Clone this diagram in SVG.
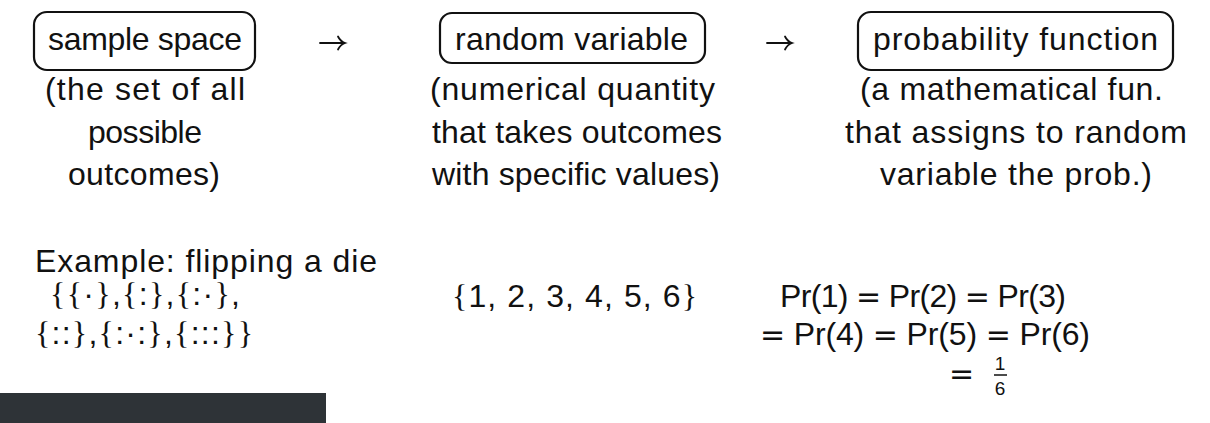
<svg xmlns="http://www.w3.org/2000/svg" width="1210" height="423" viewBox="0 0 1210 423">
<style>
.t{font-family:"Liberation Sans","DejaVu Sans",sans-serif;font-size:32px;fill:#111111}
.s{font-family:"Liberation Serif","DejaVu Serif",serif}
.q{font-family:"DejaVu Sans",sans-serif;font-size:30px}
.box{fill:none;stroke:#111111;stroke-width:2.2}
.arr{fill:none;stroke:#111111;stroke-width:1.8;stroke-linecap:round}
.fr{font-family:"Liberation Sans","DejaVu Sans",sans-serif;font-size:19px;fill:#111111}
</style>
<rect width="1210" height="423" fill="#ffffff"/>
<g id="node-sample-space">
<rect class="box" x="34" y="12" width="221" height="58" rx="13"/>
<text class="t" x="48" y="50" textLength="194">sample space</text>
<text class="t" x="45" y="100" textLength="200">(the set of all</text>
<text class="t" x="88" y="143" textLength="114">possible</text>
<text class="t" x="68" y="185" textLength="152">outcomes)</text>
</g>
<g id="node-random-variable">
<rect class="box" x="440" y="13" width="265" height="50" rx="12"/>
<text class="t" x="455" y="50" textLength="233">random variable</text>
<text class="t" x="430" y="100" textLength="285">(numerical quantity</text>
<text class="t" x="432" y="143" textLength="290">that takes outcomes</text>
<text class="t" x="432" y="185" textLength="288">with specific values)</text>
</g>
<g id="node-probability-function">
<rect class="box" x="858" y="12" width="315" height="58" rx="13"/>
<text class="t" x="873" y="50" textLength="285">probability function</text>
<text class="t" x="860" y="100" textLength="303">(a mathematical fun.</text>
<text class="t" x="845" y="143" textLength="342">that assigns to random</text>
<text class="t" x="880" y="185" textLength="272">variable the prob.)</text>
</g>
<g id="connectors">
<path class="arr" d="M320,43 H345 M338,36.5 Q340.5,41.5 345,43 Q340.5,44.5 338,49.5"/>
<path class="arr" d="M767,43 H792 M785,36.5 Q787.5,41.5 792,43 Q787.5,44.5 785,49.5"/>
</g>
<g id="example">
<text class="t" x="35" y="272" textLength="342">Example: flipping a die</text>
<text class="t" x="50" y="305" textLength="190"><tspan class="s">{{</tspan>·<tspan class="s">}</tspan>,<tspan class="s">{</tspan>:<tspan class="s">}</tspan>,<tspan class="s">{</tspan>:·<tspan class="s">}</tspan>,</text>
<text class="t" x="35" y="344" textLength="218"><tspan class="s">{</tspan>::<tspan class="s">}</tspan>,<tspan class="s">{</tspan>:·:<tspan class="s">}</tspan>,<tspan class="s">{</tspan>:::<tspan class="s">}}</tspan></text>
</g>
<g id="values">
<text class="t" x="452" y="307" textLength="245"><tspan class="s">{</tspan>1, 2, 3, 4, 5, 6<tspan class="s">}</tspan></text>
</g>
<g id="probabilities">
<text class="t" x="780" y="307" textLength="286">Pr(1) <tspan class="q">=</tspan> Pr(2) <tspan class="q">=</tspan> Pr(3)</text>
<text class="t" x="760" y="345" textLength="330"><tspan class="q">=</tspan> Pr(4) <tspan class="q">=</tspan> Pr(5) <tspan class="q">=</tspan> Pr(6)</text>
<text class="t q" x="949" y="384">=</text>
<text class="fr" x="1000" y="370" text-anchor="middle">1</text>
<line x1="994" y1="375" x2="1007" y2="375" stroke="#111111" stroke-width="1.5"/>
<text class="fr" x="1000" y="395" text-anchor="middle">6</text>
</g>
<rect x="0" y="393" width="326" height="30" fill="#2e3337"/>
</svg>
